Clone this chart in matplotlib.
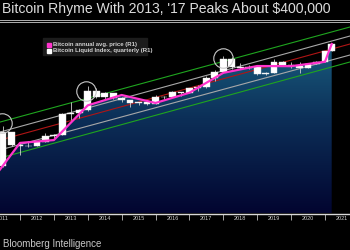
# Bitcoin quarterly candles with annual average and log channel

import numpy as np
import matplotlib.pyplot as plt
from matplotlib.colors import LinearSegmentedColormap
from matplotlib.patches import Rectangle
from matplotlib.lines import Line2D

plt.rcParams['font.family'] = ['Liberation Sans', 'DejaVu Sans']

# Quarterly candles (plotted at quarter end): open, high, low, close
q_date = [2011.5, 2011.75, 2012.0, 2012.25, 2012.5, 2012.75, 2013.0,
          2013.25, 2013.5, 2013.75, 2014.0, 2014.25, 2014.5, 2014.75,
          2015.0, 2015.25, 2015.5, 2015.75, 2016.0, 2016.25, 2016.5,
          2016.75, 2017.0, 2017.25, 2017.5, 2017.75, 2018.0, 2018.25,
          2018.5, 2018.75, 2019.0, 2019.25, 2019.5, 2019.75, 2020.0,
          2020.25, 2020.5, 2020.75, 2021.0, 2021.2]
q_open = [0.78, 16.9, 5.1, 4.7, 4.9, 6.7, 12.4, 13.5, 93, 97, 125, 750,
          450, 640, 386, 320, 244, 263, 236, 430, 416, 673, 609, 963,
          1070, 2480, 4340, 13860, 6930, 6400, 6600, 3740, 4100, 10800,
          8300, 7200, 6400, 9150, 10780, 28990]
q_high = [31.0, 17.5, 6.0, 7.2, 7.0, 15.4, 14.0, 95, 266, 146, 1150, 1000,
          680, 650, 450, 320, 265, 317, 503, 463, 780, 700, 980, 1300,
          2980, 4980, 19500, 17200, 9900, 8500, 7400, 4200, 13800, 12300,
          10500, 10500, 10000, 12470, 29300, 58300]
q_low = [0.67, 4.6, 2.0, 4.3, 4.7, 6.6, 9.8, 13.2, 50, 65, 118, 400,
         350, 350, 275, 166, 216, 199, 236, 350, 416, 470, 604, 750,
         1000, 1830, 4100, 5900, 5800, 5900, 3150, 3350, 4050, 7700,
         6500, 3850, 6150, 8900, 10400, 28800]
q_close = [16.9, 5.1, 4.7, 4.9, 6.7, 12.4, 13.5, 93, 97, 125, 750, 450,
           640, 386, 320, 244, 263, 236, 430, 416, 673, 609, 963, 1070,
           2480, 4340, 13860, 6930, 6400, 6600, 3740, 4100, 10800, 8300,
           7200, 6400, 9150, 10780, 28990, 57000]

# Annual average price, plotted at year end
avg_date = [2011.0, 2012.0, 2013.0, 2014.0, 2015.0, 2016.0, 2017.0,
            2018.0, 2019.0, 2020.0, 2021.0, 2021.2]
avg_price = [0.1, 6.3, 8.2, 200, 520, 250, 640, 4000, 7500, 7400, 11100,
             57000]

# Channel lines (start and end of the visible range)
chan_date = [2011.41, 2021.74]
green_hi = [43, 273000]
gray_hi = [17.2, 119000]
red_mid = [8.2, 57000]
gray_lo = [3.3, 20700]
green_lo = [1.57, 10900]

# Circled peaks
peak_date = [2011.47, 2013.95, 2018.0]
peak_price = [40, 750, 15700]

years = list(range(2011, 2022))

W, H = 350, 250


def fx(px):
    return px / W


def fy(py):
    return 1 - py / H


fig = plt.figure(figsize=(3.5, 2.5), dpi=100, facecolor='black')
ax = fig.add_axes([0, fy(213.5), 1, fy(24) - fy(213.5)])
ax.set_facecolor('black')
ax.set_yscale('log')

ymin, ymax = 0.00946, 359700
xmin, xmax = 2011.41, 2021.74

# gradient area under the annual average
poly = ax.fill_between(avg_date, avg_price, 1e-4, color='none', lw=0)
cmap = LinearSegmentedColormap.from_list('bg', ['#020530', '#0c2f58', '#1d6b8a'])
grad = np.linspace(0, 1, 256).reshape(-1, 1)
img = ax.imshow(grad, extent=[0, 1, 0, 1], transform=ax.transAxes,
                origin='lower', cmap=cmap, aspect='auto', zorder=1)
img.set_clip_path(poly.get_paths()[0], transform=ax.transData)

# channel
ax.plot(chan_date, green_hi, color='#1fa51f', lw=0.8, zorder=2)
ax.plot(chan_date, green_lo, color='#1fa51f', lw=0.8, zorder=2)
ax.plot(chan_date, gray_hi, color='#a8a8a8', lw=0.8, zorder=2)
ax.plot(chan_date, gray_lo, color='#a8a8a8', lw=0.8, zorder=2)
ax.plot(chan_date, red_mid, color='#b01515', lw=0.8, zorder=2)

# candles
o = np.array(q_open)
c = np.array(q_close)
ax.vlines(q_date, q_low, q_high, color='#d0d0d0', lw=0.6, zorder=3)
ax.bar(q_date, np.abs(c - o), bottom=np.minimum(o, c), width=0.2,
       color='white', edgecolor='#e8e8e8', lw=0.3, zorder=4)

# annual average
ax.plot(avg_date, avg_price, color='#ff33cc', lw=1.6, zorder=5)

# peak circles
ax.plot(peak_date, peak_price, 'o', mfc='none', mec='#c8c8c8', ms=14,
        mew=0.8, zorder=6)

ax.set_xlim(xmin, xmax)
ax.set_ylim(ymin, ymax)

for s in ['top', 'left', 'right']:
    ax.spines[s].set_visible(False)
ax.spines['bottom'].set_color('#d8d8d8')
ax.spines['bottom'].set_linewidth(1.0)
ax.set_yticks([])
ax.minorticks_off()
ax.set_xticks(years[1:])
ax.set_xticklabels([])
ax.set_xticks([y + 0.5 for y in years], [str(y) for y in years], minor=True)
ax.tick_params(axis='x', which='major', length=4, color='#c0c0c0', width=0.6)
ax.tick_params(axis='x', which='minor', length=0, pad=2, labelsize=4,
               labelcolor='#d0d0d0')

# legend
fig.patches.append(Rectangle((fx(43), fy(55)), fx(104), 17 / H,
                             transform=fig.transFigure, color='#1c1c1c',
                             zorder=0))
for yy, col, lab in [(44.5, '#ff33cc', 'Bitcoin annual avg. price (R1)'),
                     (50.5, 'white', 'Bitcoin Liquid Index, quarterly (R1)')]:
    fig.patches.append(Rectangle((fx(47), fy(yy + 2)), fx(4), 4 / H,
                                 transform=fig.transFigure, color=col))
    fig.text(fx(53), fy(yy), lab, fontsize=4.3, color='#d0d0d0',
             va='center', fontweight='bold')

# title, separator, footer
fig.text(fx(2), fy(13.5), "Bitcoin Rhyme With 2013, '17 Peaks About $400,000",
         fontsize=10.1, color='#dcdcdc', va='baseline')
for yy in [20, 22.3]:
    fig.lines.append(Line2D([0, 1], [fy(yy), fy(yy)], transform=fig.transFigure,
                            color='#b0b0b0', lw=0.7))
fig.text(fx(3), fy(246.7), 'Bloomberg Intelligence', fontsize=7,
         color='#c8c8c8', va='baseline')

fig.savefig('out.png', dpi=100, facecolor='black')
